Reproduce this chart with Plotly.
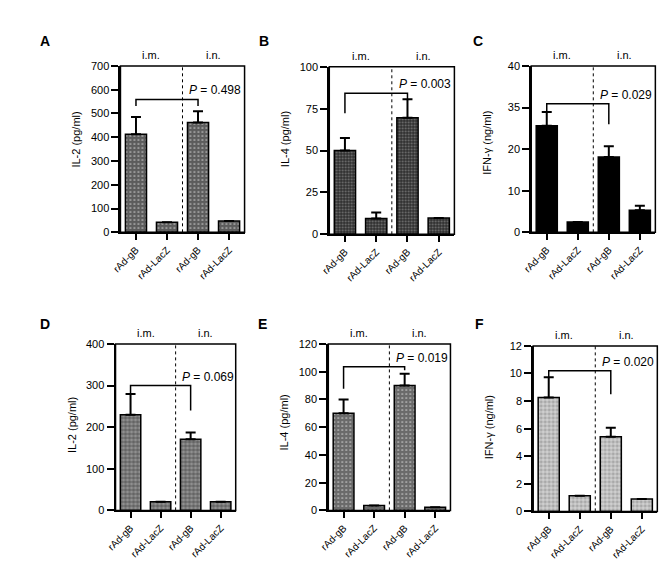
import plotly.graph_objects as go

# ---------------- data ----------------
categories = ["rAd-gB", "rAd-LacZ", "rAd-gB", "rAd-LacZ"]
groups = ["i.m.", "i.n."]
panel_letters = ["A", "B", "C", "D", "E", "F"]
y_titles = ["IL-2 (pg/ml)", "IL-4 (pg/ml)", "IFN-γ (ng/ml)",
            "IL-2 (pg/ml)", "IL-4 (pg/ml)", "IFN-γ (ng/ml)"]

vals_A = [413, 42, 462, 48]
err_A = [72, None, 47, None]
vals_B = [50, 9.4, 69.6, 9.7]
err_B = [7.5, 3.6, 11, None]
vals_C = [25.6, 2.5, 18.1, 5.3]
err_C = [3.3, None, 2.6, 1.1]
vals_D = [230, 21, 171, 21]
err_D = [50, None, 16, None]
vals_E = [70, 3.5, 90, 2.3]
err_E = [10, None, 8.5, None]
vals_F = [8.26, 1.14, 5.42, 0.9]
err_F = [1.47, None, 0.64, None]

# bracket: [level, left leg bottom, right leg bottom]
bracket_A = [559, 531, 531]
bracket_B = [84.2, 72.3, 80]
bracket_C = [30.9, 29.1, 26]
bracket_D = [300, 281.6, 240]
bracket_E = [103.5, 87.7, 101]
bracket_F = [10.2, 9.75, 8.5]

p_values = ["0.498", "0.003", "0.029", "0.069", "0.019", "0.020"]

ticks_A = [0, 100, 200, 300, 400, 500, 600, 700]
ticks_B = [0, 25, 50, 75, 100]
ticks_C = [0, 10, 20, 30, 40]
ticktext_C = ["0", "10", "20", "35", "40"]
ticks_D = [0, 100, 200, 300, 400]
ticks_E = [0, 20, 40, 60, 80, 100, 120]
ticks_F = [0, 2, 4, 6, 8, 10, 12]

values = [vals_A, vals_B, vals_C, vals_D, vals_E, vals_F]
errors = [err_A, err_B, err_C, err_D, err_E, err_F]
brackets = [bracket_A, bracket_B, bracket_C, bracket_D, bracket_E, bracket_F]
tickvals = [ticks_A, ticks_B, ticks_C, ticks_D, ticks_E, ticks_F]
ticktexts = [[str(t) for t in ticks_A], [str(t) for t in ticks_B], ticktext_C,
             [str(t) for t in ticks_D], [str(t) for t in ticks_E], [str(t) for t in ticks_F]]

# ---------------- layout geometry (pixels) ----------------
W, H = 671, 574
# (left, right, top, bottom) of each plot area in pixels
boxes = [(104, 230, 53, 223), (316, 443, 54, 225), (521, 647, 53, 223),
         (99, 221, 337, 507), (315, 439, 337, 507), (523, 649, 339, 508)]
letter_pos = [(27, 28), (250, 28), (467, 28), (27, 317), (248, 317), (468, 317)]
title_frac = [0.56, 0.57, 0.54, 0.51, 0.53, 0.51]

patterns = [
    dict(bg="#5c5c5c", fg="#d0d0d0", shape=".", size=4, solidity=0.15),
    dict(bg="#2e2e2e", fg="#7a7a7a", shape=".", size=3, solidity=0.3),
    dict(bg="#000000", fg="#000000", shape="", size=4, solidity=0.3),
    dict(bg="#909090", fg="#303030", shape="+", size=4, solidity=0.25),
    dict(bg="#6a6a6a", fg="#d0d0d0", shape=".", size=4, solidity=0.15),
    dict(bg="#a8a8a8", fg="#f0f0f0", shape="+", size=4, solidity=0.3),
]

FONT = "Liberation Sans, Arial, sans-serif"

fig = go.Figure()
layout = dict(
    width=W, height=H, margin=dict(l=0, r=0, t=0, b=0),
    paper_bgcolor="white", plot_bgcolor="white", showlegend=False,
    font=dict(family=FONT, size=11, color="black"),
)
annotations = []
shapes = []

xpos = list(range(len(categories)))

for i in range(6):
    n = "" if i == 0 else str(i + 1)
    xa, ya = "x" + n, "y" + n
    l, r, t, b = boxes[i]
    pat = patterns[i]
    fig.add_trace(go.Bar(
        x=xpos, y=values[i], xaxis=xa, yaxis=ya,
        marker=dict(color=pat["bg"], line=dict(color="black", width=1.5),
                    pattern=dict(shape=pat["shape"], bgcolor=pat["bg"], fgcolor=pat["fg"],
                                 size=pat["size"], solidity=pat["solidity"], fillmode="replace")),
        error_y=dict(type="data", symmetric=False, array=errors[i],
                     arrayminus=[0] * 4, color="black", thickness=2, width=5, visible=True),
        width=0.68,
    ))
    top = tickvals[i][-1]
    layout["xaxis" + n] = dict(
        domain=[l / W, r / W], anchor=ya, range=[-0.5, 3.5],
        tickmode="array", tickvals=xpos, ticktext=categories, tickangle=-45,
        ticks="outside", ticklen=6, tickwidth=1.5, tickcolor="black",
        showline=True, linewidth=2, linecolor="black", showgrid=False, zeroline=False,
        tickfont=dict(size=10, family=FONT), fixedrange=True,
    )
    layout["yaxis" + n] = dict(
        domain=[1 - b / H, 1 - t / H], anchor=xa, range=[0, top],
        tickmode="array", tickvals=tickvals[i], ticktext=ticktexts[i],
        ticks="outside", ticklen=7, tickwidth=1.5, tickcolor="black",
        showline=True, linewidth=2, linecolor="black", showgrid=False, zeroline=False,
        tickfont=dict(size=11, family=FONT), fixedrange=True,
    )
    # frame
    shapes.append(dict(type="rect", xref=xa + " domain", yref=ya + " domain",
                       x0=0, x1=1, y0=0, y1=1, line=dict(color="black", width=1.5)))
    # dotted divider between groups
    shapes.append(dict(type="line", xref=xa, yref=ya + " domain",
                       x0=1.5, x1=1.5, y0=0, y1=1,
                       line=dict(color="black", width=1, dash="dot")))
    # bracket
    lev, lb, rb = brackets[i]
    shapes.append(dict(type="path", xref=xa, yref=ya,
                       path=f"M 0 {lb} L 0 {lev} L 2 {lev} L 2 {rb}",
                       line=dict(color="black", width=1.5)))
    # P value
    annotations.append(dict(text=f"<i>P</i> = {p_values[i]}", xref=xa, yref=ya,
                            x=1.66, y=lev, xanchor="left", yanchor="middle", yshift=9,
                            showarrow=False, font=dict(size=12, family=FONT)))
    # group labels
    for g, gx in zip(groups, [0.5, 2.5]):
        annotations.append(dict(text=g, xref=xa, yref=ya + " domain", x=gx, y=1,
                                xanchor="center", yanchor="middle", yshift=11,
                                showarrow=False, font=dict(size=11, family=FONT)))
    # y title
    annotations.append(dict(text=y_titles[i], xref=xa + " domain", yref=ya + " domain",
                            x=0, y=title_frac[i], xshift=-44, textangle=-90,
                            xanchor="center", yanchor="middle", showarrow=False,
                            font=dict(size=11, family=FONT)))
    # panel letter
    lx, ly = letter_pos[i]
    annotations.append(dict(text=f"<b>{panel_letters[i]}</b>", xref="paper", yref="paper",
                            x=lx / W, y=1 - ly / H, xanchor="center", yanchor="middle",
                            showarrow=False, font=dict(size=14, family=FONT)))

layout["annotations"] = annotations
layout["shapes"] = shapes
fig.update_layout(**layout)
fig.write_html("out.html")
